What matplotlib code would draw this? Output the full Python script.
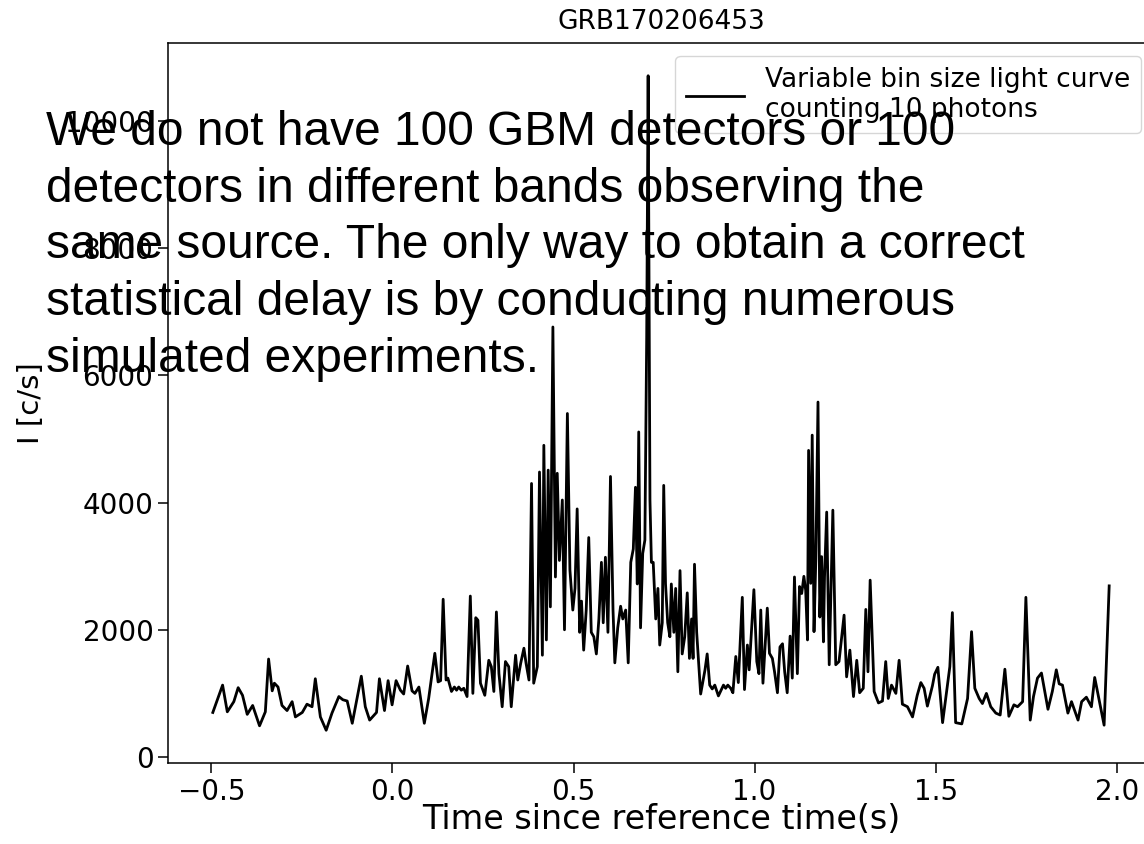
import matplotlib
matplotlib.use("Agg")
import matplotlib.pyplot as plt

title = "GRB170206453"
xlabel = "Time since reference time(s)"
ylabel = "I [c/s]"
legend_label = "Variable bin size light curve\ncounting 10 photons"
note = ("We do not have 100 GBM detectors or 100\n"
        "detectors in different bands observing the\n"
        "same source. The only way to obtain a correct\n"
        "statistical delay is by conducting numerous\n"
        "simulated experiments.")

t_pre = [-0.496, -0.469, -0.456, -0.438, -0.426, -0.414, -0.401, -0.386, -0.367, -0.351,
         -0.342, -0.332, -0.326, -0.316, -0.305, -0.291, -0.277, -0.268, -0.249, -0.236,
         -0.222, -0.213, -0.199, -0.183, -0.167, -0.148, -0.137, -0.125, -0.111, -0.086,
         -0.075, -0.063, -0.044, -0.036, -0.022, -0.012, -0.001, 0.010, 0.022, 0.031,
         0.042, 0.054, 0.062, 0.073, 0.088, 0.100, 0.117, 0.126, 0.133, 0.140]
i_pre = [700, 1130, 710, 870, 1090, 970, 670, 810, 490, 710,
         1540, 1040, 1160, 1100, 810, 730, 870, 630, 700, 830,
         790, 1230, 630, 420, 690, 950, 900, 880, 530, 1270,
         790, 580, 700, 1230, 730, 1200, 820, 1200, 1050, 990,
         1430, 1040, 1000, 1100, 530, 920, 1630, 1180, 1200, 2480]

t_rise = [0.148, 0.153, 0.163, 0.171, 0.177, 0.183, 0.190, 0.197, 0.206, 0.215,
          0.222, 0.230, 0.236, 0.243, 0.255, 0.266, 0.273, 0.280, 0.287, 0.294,
          0.303, 0.312, 0.321, 0.328, 0.340, 0.346, 0.354, 0.363, 0.369, 0.377,
          0.384, 0.390, 0.400, 0.406, 0.414, 0.418, 0.425, 0.430, 0.436, 0.443,
          0.450, 0.455, 0.461, 0.469, 0.475, 0.483, 0.490]
i_rise = [1210, 1240, 1030, 1100, 1050, 1100, 1050, 1080, 950, 2530,
          1000, 2190, 2150, 1160, 970, 1520, 1420, 1030, 2280, 1310,
          790, 1500, 1420, 790, 1600, 1210, 1470, 1710, 1470, 1210,
          4300, 1160, 1420, 4480, 1600, 4900, 1840, 4510, 2360, 6760,
          2830, 4460, 3090, 4040, 2000, 5400, 2940]

t_main = [0.498, 0.504, 0.510, 0.517, 0.522, 0.528, 0.535, 0.542, 0.549, 0.556,
          0.563, 0.570, 0.577, 0.582, 0.588, 0.595, 0.602, 0.609, 0.614, 0.622,
          0.630, 0.636, 0.644, 0.651, 0.658, 0.665, 0.671, 0.676, 0.680, 0.685,
          0.691, 0.697, 0.702, 0.706, 0.711, 0.715, 0.720, 0.727, 0.733, 0.738,
          0.745, 0.749, 0.754, 0.760, 0.766, 0.770, 0.777, 0.782, 0.788, 0.794,
          0.800, 0.807, 0.814, 0.820, 0.826, 0.830, 0.834, 0.840, 0.851, 0.863,
          0.869, 0.876, 0.883, 0.890, 0.900]
i_main = [2310, 2650, 3900, 1960, 2450, 1680, 2310, 3450, 1960, 1890,
          1620, 2170, 3060, 2110, 3140, 1960, 4410, 2310, 1480, 2030,
          2370, 2170, 2310, 1480, 3060, 3270, 4240, 2720, 5110, 2030,
          3200, 3410, 6600, 10710, 4040, 3060, 3060, 2170, 2650, 1760,
          2110, 4270, 2720, 2110, 1890, 2720, 1960, 2650, 1340, 2930,
          1620, 1890, 2580, 1550, 2170, 1550, 3030, 1960, 990, 1370,
          1620, 1130, 1070, 1130, 960]

t_second = [0.914, 0.920, 0.926, 0.934, 0.940, 0.948, 0.955, 0.966, 0.972, 0.980,
            0.985, 0.998, 1.006, 1.012, 1.017, 1.023, 1.035, 1.041, 1.049, 1.055,
            1.063, 1.070, 1.077, 1.083, 1.090, 1.098, 1.104, 1.110, 1.118, 1.124,
            1.130, 1.136, 1.141, 1.146, 1.149, 1.155, 1.159, 1.164, 1.169, 1.175,
            1.180, 1.185, 1.190, 1.193, 1.199, 1.206, 1.216, 1.224, 1.233, 1.247,
            1.254, 1.263, 1.273, 1.282, 1.290, 1.300, 1.307, 1.313, 1.319]
i_second = [1130, 1080, 1130, 1080, 1010, 1580, 1170, 2510, 1060, 1760,
            1370, 2630, 1500, 1310, 2310, 1160, 2340, 1630, 1550, 1340,
            1010, 1730, 1780, 1340, 1010, 1900, 1240, 2830, 1310, 2680,
            2570, 2840, 2620, 1840, 4820, 2730, 5060, 1970, 3110, 5580,
            2200, 3150, 1810, 2830, 3850, 1450, 3880, 1450, 1500, 2230,
            1260, 1680, 950, 1520, 1010, 1080, 2320, 1340, 2780]

t_tail = [1.330, 1.342, 1.353, 1.362, 1.369, 1.378, 1.390, 1.399, 1.408, 1.422,
          1.436, 1.449, 1.459, 1.468, 1.477, 1.491, 1.497, 1.506, 1.519, 1.535,
          1.539, 1.546, 1.555, 1.572, 1.588, 1.599, 1.608, 1.620, 1.629, 1.640,
          1.652, 1.666, 1.678, 1.691, 1.702, 1.716, 1.726, 1.740, 1.749, 1.761,
          1.770, 1.781, 1.792, 1.810, 1.822, 1.833, 1.841, 1.850, 1.865, 1.875,
          1.893, 1.903, 1.916, 1.930, 1.939, 1.949, 1.965, 1.979]
i_tail = [1030, 850, 880, 1500, 920, 1130, 1000, 1520, 830, 790,
          630, 970, 1170, 1080, 800, 1120, 1300, 1410, 540, 1240,
          1420, 2270, 540, 520, 920, 1970, 1080, 920, 840, 1000,
          790, 690, 660, 1380, 640, 820, 790, 870, 2510, 580,
          950, 1240, 1320, 750, 1030, 1370, 1150, 1130, 690, 870,
          580, 870, 940, 790, 1250, 960, 500, 2690]

time = t_pre + t_rise + t_main + t_second + t_tail
rate = i_pre + i_rise + i_main + i_second + i_tail

fig = plt.figure(figsize=(11.44, 8.44), dpi=100)
ax = fig.add_axes([168 / 1144, 1 - 763 / 844, 986 / 1144, 720 / 844])
ax.plot(time, rate, color="black", lw=2, label=legend_label)
ax.set_title(title, fontsize=19, pad=10)
ax.set_xlabel(xlabel, fontsize=24, labelpad=-2)
ax.set_ylabel(ylabel, fontsize=21, labelpad=14)
ax.tick_params(labelsize=20, length=7, width=1.1)
for sp in ax.spines.values():
    sp.set_linewidth(1.1)
ax.legend(loc="upper right", fontsize=19, handlelength=2.2)

fig.text(0.040, 1 - 110 / 844, note, family=["Liberation Sans", "DejaVu Sans"],
         fontsize=34.5, va="top", ha="left", linespacing=1.335)

fig.savefig("out.png", dpi=100)
